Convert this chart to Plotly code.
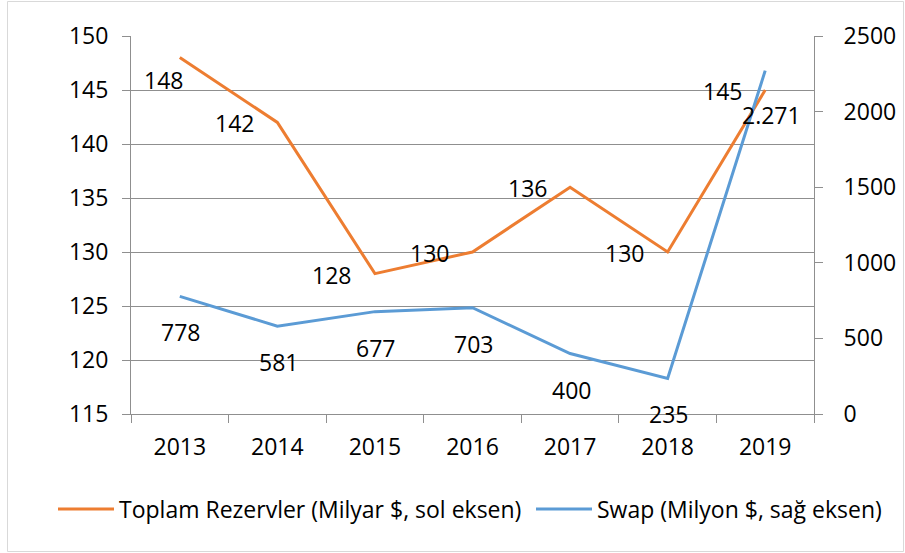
import plotly.graph_objects as go

years = ["2013", "2014", "2015", "2016", "2017", "2018", "2019"]
reserves = [148, 142, 128, 130, 136, 130, 145]
swap = [778, 581, 677, 703, 400, 235, 2271]
left_ticks = [115, 120, 125, 130, 135, 140, 145, 150]
right_ticks = [0, 500, 1000, 1500, 2000, 2500]
name_res = "Toplam Rezervler (Milyar $, sol eksen)"
name_swap = "Swap (Milyon $, sağ eksen)"

ORANGE = "#ED7D31"
BLUE = "#5B9BD5"
GRID = "#8f8f8f"
FONT = "Open Sans"
FS = 23

# plot area targeted at x 131..814, y 36..414 (page body margin removed below)
PL, PR, PT, PB = 131, 814, 36, 414
W, H = 905, 553
PW, PH = PR - PL, PB - PT

def tr_fmt(v):
    return f"{v:,}".replace(",", ".")

def px2x(px):
    return (px - PL) / PW

def px2y(py):
    return (PB - py) / PH

fig = go.Figure()
fig.add_trace(go.Scatter(x=years, y=reserves, name=name_res, mode="lines",
                         line=dict(color=ORANGE, width=3), yaxis="y", legend="legend"))
fig.add_trace(go.Scatter(x=years, y=swap, name=name_swap, mode="lines",
                         line=dict(color=BLUE, width=3), yaxis="y2", legend="legend2"))

ann = []
for i, v in enumerate(reserves):
    if i == 0:
        xs, ys = -16, -22
    else:
        xs, ys = -43, -1
    ann.append(dict(x=i, y=v, xref="x", yref="y", text=str(v), showarrow=False,
                    xshift=xs, yshift=ys, font=dict(family=FONT, size=FS, color="#000")))
for i, v in enumerate(swap):
    if i == len(swap) - 1:
        xs, ys = 6, -44
    else:
        xs, ys = 1, -36
    ann.append(dict(x=i, y=v, xref="x", yref="y2", text=tr_fmt(v), showarrow=False,
                    xshift=xs, yshift=ys, font=dict(family=FONT, size=FS, color="#000")))

leg_common = dict(orientation="h", yanchor="middle", y=px2y(509), xanchor="left",
                  font=dict(family=FONT, size=FS, color="#000"), itemwidth=56,
                  bgcolor="rgba(0,0,0,0)")

fig.update_layout(
    width=W, height=H,
    margin=dict(l=PL, r=W - PR, t=PT, b=H - PB, autoexpand=False),
    paper_bgcolor="white", plot_bgcolor="white",
    font=dict(family=FONT, size=FS, color="#000"),
    showlegend=True,
    legend=dict(x=px2x(53), **leg_common),
    legend2=dict(x=px2x(531), **leg_common),
    xaxis=dict(type="category", range=[-0.5, 6.5], showgrid=False,
               showline=True, linecolor=GRID, linewidth=1,
               ticks="outside", ticklen=8, tickcolor=GRID, tickson="boundaries",
               ticklabelstandoff=12, tickfont=dict(size=FS)),
    yaxis=dict(range=[115, 150], tickvals=left_ticks, showgrid=True, gridcolor=GRID,
               gridwidth=1, showline=True, linecolor=GRID, ticks="outside", ticklen=8,
               tickcolor=GRID, zeroline=False, ticklabelstandoff=9, tickfont=dict(size=FS)),
    yaxis2=dict(range=[0, 2500], tickvals=right_ticks, tickformat="d", overlaying="y",
                side="right", showgrid=False, showline=True, linecolor=GRID,
                ticks="outside", ticklen=8, tickcolor=GRID, zeroline=False,
                ticklabelstandoff=16, tickfont=dict(size=FS)),
    annotations=ann,
    shapes=[dict(type="rect", xref="paper", yref="paper",
                 x0=px2x(7.5), x1=px2x(903.5), y0=px2y(551.5), y1=px2y(1.5),
                 line=dict(color="#d9d9d9", width=1), fillcolor="rgba(0,0,0,0)",
                 layer="below")],
)

fig.write_html("out.html", config={"displayModeBar": False},
               post_script="document.body.style.margin='0px';")
